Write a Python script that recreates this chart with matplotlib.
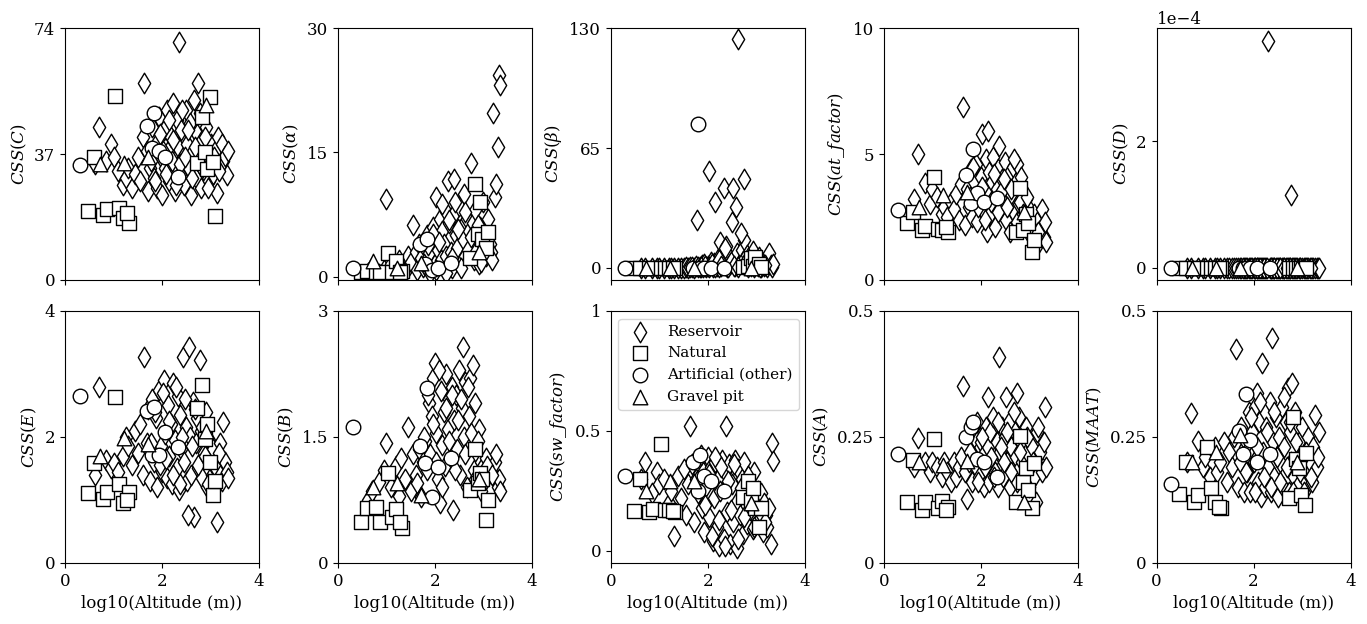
import numpy as np
import matplotlib
matplotlib.use('Agg')
import matplotlib.pyplot as plt

plt.rcParams['font.family'] = 'serif'
plt.rcParams['font.serif'] = ['DejaVu Serif']
plt.rcParams['mathtext.fontset'] = 'dejavuserif'
plt.rcParams['font.size'] = 12

# log10(altitude) of the lakes, per lake type
res_x = [0.62, 0.70, 0.85, 0.95, 1.00, 1.10, 1.20, 1.25, 1.30, 1.38,
         1.45, 1.50, 1.55, 1.60, 1.63, 1.68, 1.72, 1.75, 1.80, 1.83,
         1.87, 1.90, 1.93, 1.97, 2.00, 2.03, 2.06, 2.10, 2.12, 2.15,
         2.18, 2.20, 2.23, 2.26, 2.30, 2.33, 2.35, 2.38, 2.40, 2.43,
         2.46, 2.50, 2.52, 2.55, 2.58, 2.60, 2.63, 2.66, 2.70, 2.72,
         2.75, 2.78, 2.80, 2.83, 2.86, 2.90, 2.93, 2.96, 3.00, 3.03,
         3.06, 3.10, 3.13, 3.16, 3.20, 3.23, 3.26, 3.30, 3.33, 3.35,
         1.78, 1.85, 1.95, 2.02, 2.08, 2.14, 2.22, 2.28, 2.36, 2.42,
         2.48, 2.54, 2.62, 2.68, 2.74, 2.82, 2.88, 2.95, 3.08, 3.18]
nat_x = [0.47, 0.60, 0.78, 0.86, 1.03, 1.12, 1.20, 1.32, 1.28,
         2.72, 2.82, 2.88, 2.93, 2.98, 3.05, 3.09]
art_x = [0.30, 1.69, 1.79, 1.84, 1.93, 2.06, 2.33]
grv_x = [0.72, 1.22, 1.71, 2.90]

# CSS(C)
res_C = [34, 45, 35, 40, 36, 32, 28, 30, 33, 27,
         31, 36, 29, 42, 58, 38, 26, 33, 45, 30,
         40, 27, 48, 36, 25, 44, 33, 50, 38, 29,
         42, 35, 52, 26, 47, 39, 70, 31, 44, 36,
         28, 50, 40, 33, 46, 25, 38, 53, 30, 43,
         35, 49, 27, 41, 32, 45, 37, 29, 40, 34,
         31, 38, 25.5, 42, 33, 40, 35, 36.5, 30.8, 38,
         35, 29, 43, 38, 31, 47, 41, 28, 34, 50,
         36, 44, 30, 39, 58, 33, 42, 27, 36, 32]
nat_C = [20.3, 36.1, 19.1, 20.8, 54.0, 21.1, 18.2, 16.7, 19.7, 34.4, 47.9, 37.6, 32.6, 53.7, 34.7, 18.8]
art_C = [33.8, 45.2, 38.8, 49.0, 37.9, 36.1, 30.2]
grv_C = [34.0, 34.4, 36.1, 51.4]

# CSS(alpha)
res_alpha = [0.5, 1.2, 0.3, 0.8, 9.4, 1.5, 0.4, 2.0, 1.0, 0.6,
             2.5, 1.8, 6.2, 3.0, 0.8, 4.0, 2.2, 1.2, 3.5, 5.0,
             2.8, 0.5, 4.5, 6.0, 1.5, 9.6, 3.2, 7.0, 2.0, 5.5,
             4.0, 8.0, 2.5, 11.6, 6.5, 3.0, 1.0, 7.5, 11.8, 5.0,
             3.5, 8.5, 1.5, 6.0, 4.5, 10.0, 2.5, 7.0, 5.5, 3.0,
             13.7, 6.5, 2.0, 8.0, 4.0, 1.5, 6.0, 3.5, 9.0, 5.0,
             2.5, 7.0, 4.0, 3.0, 19.7, 9.6, 11.2, 15.6, 24.3, 23.1,
             1.5, 3.8, 5.2, 0.8, 4.2, 8.8, 0.5, 6.8, 2.2, 9.0,
             5.8, 1.0, 7.8, 3.2, 4.8, 2.8, 6.2, 1.8, 3.0, 2.0]
nat_alpha = [0.6, 0.7, 0.6, 0.6, 2.8, 0.6, 1.9, 0.7, 0.6, 2.3, 11.2, 5.2, 9.0, 4.6, 3.5, 5.4]
art_alpha = [1.1, 4.0, 1.5, 4.6, 0.8, 1.0, 1.7]
grv_alpha = [1.9, 1.0, 1.7, 3.0]

# CSS(beta)
res_beta = [0.1, 0.1, 0.1, 0.1, 0.1, 0.1, 0.1, 0.1, 0.1, 0.1,
            0.2, 0.1, 0.3, 0.2, 0.5, 0.3, 0.2, 1.0, 0.5, 0.3,
            1.5, 0.5, 2.0, 0.8, 1.0, 52.5, 3.0, 0.5, 2.5, 35.7,
            1.2, 5.0, 0.8, 14.0, 3.5, 43.3, 1.5, 12.0, 0.6, 6.0,
            2.0, 25.0, 43.3, 1.0, 33.0, 8.0, 124.0, 2.5, 10.0, 4.0,
            15.0, 1.5, 7.0, 0.8, 5.0, 2.0, 9.0, 0.5, 3.0, 1.0,
            6.0, 0.5, 2.5, 1.0, 4.0, 0.3, 8.0, 1.5, 0.5, 2.0,
            26.0, 0.8, 1.2, 0.4, 2.0, 0.6, 4.5, 1.0, 11.0, 0.5,
            3.5, 1.2, 0.8, 19.0, 48.2, 5.5, 1.0, 2.5, 0.5, 1.5]
nat_beta = [0, 0, 0, 0, 0, 0, 0, 0, 0, 0.5, 1.0, 5.5, 1.0, 6.0, 2.0, 0.5]
art_beta = [0, 0, 78, 0, 0, 0, 0]
grv_beta = [0, 0, 0, 0]

# CSS(at_factor)
res_at = [3.2, 5.0, 3.85, 3.0, 3.6, 3.3, 2.6, 2.9, 2.5, 3.1,
          2.8, 3.4, 2.4, 3.8, 6.87, 2.2, 3.6, 2.9, 4.4, 2.5,
          3.9, 4.6, 2.3, 3.3, 4.1, 5.8, 2.7, 4.8, 1.9, 3.5,
          4.3, 2.6, 3.9, 4.9, 2.1, 3.6, 4.4, 5.3, 2.8, 4.0,
          3.2, 4.7, 2.4, 3.7, 4.2, 1.9, 3.4, 4.5, 2.6, 3.9,
          4.6, 3.0, 2.2, 4.1, 3.5, 2.5, 3.2, 2.0, 2.8, 2.4,
          2.2, 2.6, 1.8, 2.3, 1.5, 2.0, 2.8, 1.7, 2.3, 1.5,
          3.3, 4.5, 2.9, 3.7, 2.4, 5.9, 3.1, 4.2, 2.7, 3.5,
          4.0, 2.9, 3.6, 4.8, 2.3, 3.1, 2.6, 3.3, 2.0, 1.9]
nat_at = [2.26, 2.7, 1.98, 2.14, 4.1, 2.02, 1.98, 1.9, 2.1, 1.9, 3.65, 2.0, 2.6, 2.26, 1.1, 1.6]
art_at = [2.78, 4.17, 3.05, 5.2, 3.45, 3.1, 3.25]
grv_at = [2.9, 3.37, 3.49, 2.7]

# CSS(D), in units of 1e-4
res_D = [0, 0, 0, 0, 0, 0, 0, 0, 0, 0,
         0, 0, 0, 0, 0, 0, 0, 0, 0, 0,
         0, 0, 0, 0, 0, 0, 0, 0, 0, 0,
         0, 0, 0, 0, 3.57, 0, 0, 0, 0, 0,
         0, 0, 0, 0, 0, 0, 0, 0, 0, 0,
         0, 1.15, 0, 0, 0, 0, 0, 0, 0, 0,
         0, 0, 0, 0, 0, 0, 0, 0, 0, 0,
         0, 0, 0, 0, 0, 0, 0, 0, 0, 0,
         0, 0, 0, 0, 0, 0, 0, 0, 0, 0]
nat_D = [0, 0, 0, 0, 0, 0, 0, 0, 0, 0, 0, 0, 0, 0, 0, 0]
art_D = [0, 0, 0, 0, 0, 0, 0]
grv_D = [0, 0, 0, 0]

# CSS(E)
res_E = [1.4, 2.79, 1.63, 1.5, 1.59, 1.45, 1.7, 2.0, 1.85, 1.55,
         2.1, 1.75, 2.2, 1.4, 3.27, 1.9, 2.45, 1.3, 2.6, 1.6,
         2.3, 1.2, 2.75, 1.85, 1.45, 2.9, 2.05, 1.35, 2.5, 1.7,
         2.2, 1.25, 2.85, 1.95, 1.5, 2.65, 1.15, 2.35, 1.8, 3.27,
         1.6, 2.15, 1.3, 3.43, 2.0, 1.4, 2.55, 0.73, 1.9, 2.3,
         1.5, 3.22, 2.1, 1.35, 1.75, 2.4, 1.2, 1.95, 1.6, 1.4,
         1.8, 1.5, 0.65, 1.45, 1.9, 1.3, 2.24, 1.6, 1.45, 1.35,
         1.9, 2.4, 1.55, 2.7, 1.65, 2.25, 1.4, 2.8, 1.25, 2.0,
         2.6, 0.76, 1.85, 2.45, 1.55, 2.15, 1.7, 1.25, 1.55, 1.75]
nat_E = [1.11, 1.59, 1.02, 1.13, 2.63, 1.25, 0.95, 1.13, 1.0, 2.46, 2.83, 1.97, 2.2, 1.6, 1.08, 1.3]
art_E = [2.65, 2.41, 1.71, 2.48, 1.72, 2.08, 1.84]
grv_E = [1.7, 1.98, 1.89, 2.1]

# CSS(B)
res_B = [0.75, 0.86, 0.96, 1.1, 1.43, 0.9, 1.15, 0.8, 1.25, 1.0,
         1.62, 0.85, 1.3, 1.05, 0.95, 1.35, 0.78, 1.2, 1.45, 1.1,
         1.9, 1.3, 1.75, 2.2, 2.38, 1.55, 1.0, 0.71, 2.05, 1.4,
         1.8, 1.15, 2.25, 1.6, 1.95, 1.25, 2.1, 0.63, 1.7, 2.0,
         1.35, 2.3, 1.05, 1.85, 2.57, 1.5, 2.15, 0.9, 1.75, 2.2,
         1.4, 2.36, 1.1, 1.9, 1.3, 1.6, 1.0, 1.2, 1.15, 0.9,
         1.25, 0.95, 1.1, 0.85, 1.05, 1.2, 1.3, 0.9, 1.0, 0.85,
         1.5, 2.0, 1.65, 1.2, 2.3, 0.9, 1.85, 1.45, 2.0, 1.1,
         1.7, 1.95, 1.3, 2.1, 1.55, 1.0, 1.45, 0.85, 1.15, 1.05]
nat_B = [0.49, 0.65, 0.67, 0.49, 1.07, 0.55, 0.64, 0.42, 0.49, 0.87, 1.36, 0.95, 1.07, 1.0, 0.51, 0.75]
art_B = [1.62, 1.39, 1.19, 2.08, 0.79, 1.14, 1.25]
grv_B = [0.9, 0.95, 0.81, 1.0]

# CSS(sw_factor)
res_sw = [0.3, 0.37, 0.24, 0.33, 0.28, 0.3, 0.2, 0.25, 0.06, 0.31,
          0.22, 0.34, 0.15, 0.28, 0.52, 0.36, 0.12, 0.3, 0.24, 0.38,
          0.18, 0.33, 0.08, 0.27, 0.39, 0.14, 0.35, 0.04, 0.22, 0.37,
          0.1, 0.3, 0.02, 0.25, 0.38, 0.05, 0.33, 0.52, 0.16, 0.36,
          0.03, 0.28, 0.12, 0.38, 0.2, 0.01, 0.34, 0.15, 0.3, 0.07,
          0.37, 0.22, 0.11, 0.3, 0.17, 0.27, 0.09, 0.33, 0.19, 0.25,
          0.13, 0.24, 0.08, 0.2, 0.15, 0.1, 0.18, 0.03, 0.45, 0.375,
          0.29, 0.4, 0.19, 0.32, 0.06, 0.39, 0.13, 0.35, 0.02, 0.29,
          0.17, 0.36, 0.05, 0.26, 0.14, 0.31, 0.21, 0.1, 0.16, 0.12]
nat_sw = [0.167, 0.30, 0.16, 0.175, 0.445, 0.17, 0.17, 0.16, 0.165, 0.225, 0.29, 0.21, 0.26, 0.18, 0.10, 0.18]
art_sw = [0.31, 0.37, 0.25, 0.40, 0.31, 0.29, 0.25]
grv_sw = [0.25, 0.29, 0.29, 0.2]

# CSS(A)
res_A = [0.19, 0.248, 0.2, 0.18, 0.2, 0.19, 0.17, 0.2, 0.18, 0.16,
         0.2, 0.17, 0.19, 0.21, 0.351, 0.18, 0.127, 0.2, 0.22, 0.16,
         0.25, 0.19, 0.28, 0.17, 0.24, 0.21, 0.15, 0.27, 0.19, 0.23,
         0.16, 0.26, 0.2, 0.29, 0.18, 0.24, 0.15, 0.409, 0.22, 0.27,
         0.17, 0.25, 0.329, 0.2, 0.28, 0.15, 0.23, 0.18, 0.26, 0.21,
         0.16, 0.29, 0.19, 0.24, 0.2, 0.17, 0.27, 0.22, 0.15, 0.19,
         0.23, 0.17, 0.12, 0.26, 0.2, 0.22, 0.18, 0.24, 0.31, 0.19,
         0.22, 0.27, 0.16, 0.25, 0.19, 0.329, 0.21, 0.17, 0.28, 0.23,
         0.2, 0.26, 0.18, 0.3, 0.337, 0.22, 0.16, 0.25, 0.2, 0.27]
nat_A = [0.12, 0.204, 0.104, 0.12, 0.246, 0.109, 0.123, 0.111, 0.105, 0.121, 0.252, 0.161, 0.188, 0.145, 0.109, 0.198]
art_A = [0.216, 0.25, 0.27, 0.28, 0.206, 0.2, 0.171]
grv_A = [0.2, 0.194, 0.202, 0.12]

# CSS(MAAT)
res_MAAT = [0.2, 0.298, 0.242, 0.19, 0.21, 0.17, 0.23, 0.18, 0.2, 0.24,
            0.16, 0.22, 0.19, 0.25, 0.425, 0.15, 0.2, 0.27, 0.14, 0.23,
            0.18, 0.3, 0.14, 0.26, 0.2, 0.31, 0.337, 0.16, 0.28, 0.13,
            0.397, 0.22, 0.15, 0.27, 0.19, 0.32, 0.14, 0.446, 0.24, 0.17,
            0.29, 0.13, 0.25, 0.2, 0.31, 0.15, 0.23, 0.28, 0.347, 0.14,
            0.26, 0.2, 0.357, 0.17, 0.3, 0.15, 0.24, 0.19, 0.27, 0.14,
            0.22, 0.18, 0.25, 0.2, 0.16, 0.23, 0.294, 0.19, 0.21, 0.26,
            0.25, 0.18, 0.29, 0.14, 0.23, 0.32, 0.17, 0.26, 0.15, 0.3,
            0.21, 0.16, 0.33, 0.19, 0.28, 0.14, 0.24, 0.18, 0.22, 0.17]
nat_MAAT = [0.137, 0.2, 0.121, 0.135, 0.23, 0.149, 0.121, 0.109, 0.11, 0.129, 0.29, 0.206, 0.188, 0.135, 0.115, 0.218]
art_MAAT = [0.157, 0.262, 0.216, 0.335, 0.244, 0.2, 0.216]
grv_MAAT = [0.2, 0.22, 0.254, 0.2]

panels = [
    (r'$CSS(C)$', res_C, nat_C, art_C, grv_C, (0, 74), [0, 37, 74], 1),
    (r'$CSS(\alpha)$', res_alpha, nat_alpha, art_alpha, grv_alpha, (-0.4, 30), [0, 15, 30], 1),
    (r'$CSS(\beta)$', res_beta, nat_beta, art_beta, grv_beta, (-6.5, 130), [0, 65, 130], 1),
    (r'$CSS(at\_factor)$', res_at, nat_at, art_at, grv_at, (0, 10), [0, 5, 10], 1),
    (r'$CSS(D)$', res_D, nat_D, art_D, grv_D, (-0.19e-4, 3.78e-4), [0, 2e-4], 1e-4),
    (r'$CSS(E)$', res_E, nat_E, art_E, grv_E, (0, 4), [0, 2, 4], 1),
    (r'$CSS(B)$', res_B, nat_B, art_B, grv_B, (0, 3), [0, 1.5, 3], 1),
    (r'$CSS(sw\_factor)$', res_sw, nat_sw, art_sw, grv_sw, (-0.05, 1), [0, 0.5, 1], 1),
    (r'$CSS(A)$', res_A, nat_A, art_A, grv_A, (0, 0.5), [0, 0.25, 0.5], 1),
    (r'$CSS(MAAT)$', res_MAAT, nat_MAAT, art_MAAT, grv_MAAT, (0, 0.5), [0, 0.25, 0.5], 1),
]

fig, axes = plt.subplots(2, 5, figsize=(13.67, 6.24), dpi=100, sharex=True)
fig.subplots_adjust(left=0.0476, right=0.988, top=0.955, bottom=0.098,
                    wspace=0.407, hspace=0.123)

kw = dict(s=110, facecolors='white', edgecolors='black', linewidths=1)
for ax, (lab, r, n, a, g, ylim, yt, sc) in zip(axes.flat, panels):
    ax.scatter(res_x, np.array(r) * sc, marker='d', label='Reservoir', **kw)
    ax.scatter(nat_x, np.array(n) * sc, marker='s', label='Natural', **kw)
    ax.scatter(art_x, np.array(a) * sc, marker='o', label='Artificial (other)', **kw)
    ax.scatter(grv_x, np.array(g) * sc, marker='^', label='Gravel pit', **kw)
    ax.set_ylim(ylim)
    ax.set_yticks(yt)
    if sc == 1:
        ax.set_yticklabels([('%g' % t) for t in yt])
    else:
        ax.ticklabel_format(axis='y', style='sci', scilimits=(0, 0))
    ax.set_ylabel(lab)
    ax.set_xlim(0, 4)
    ax.set_xticks([0, 2, 4])

for ax in axes[1]:
    ax.set_xlabel('log10(Altitude (m))')

axes[1, 2].legend(loc='upper left', fontsize=11)

plt.savefig('out.png')
